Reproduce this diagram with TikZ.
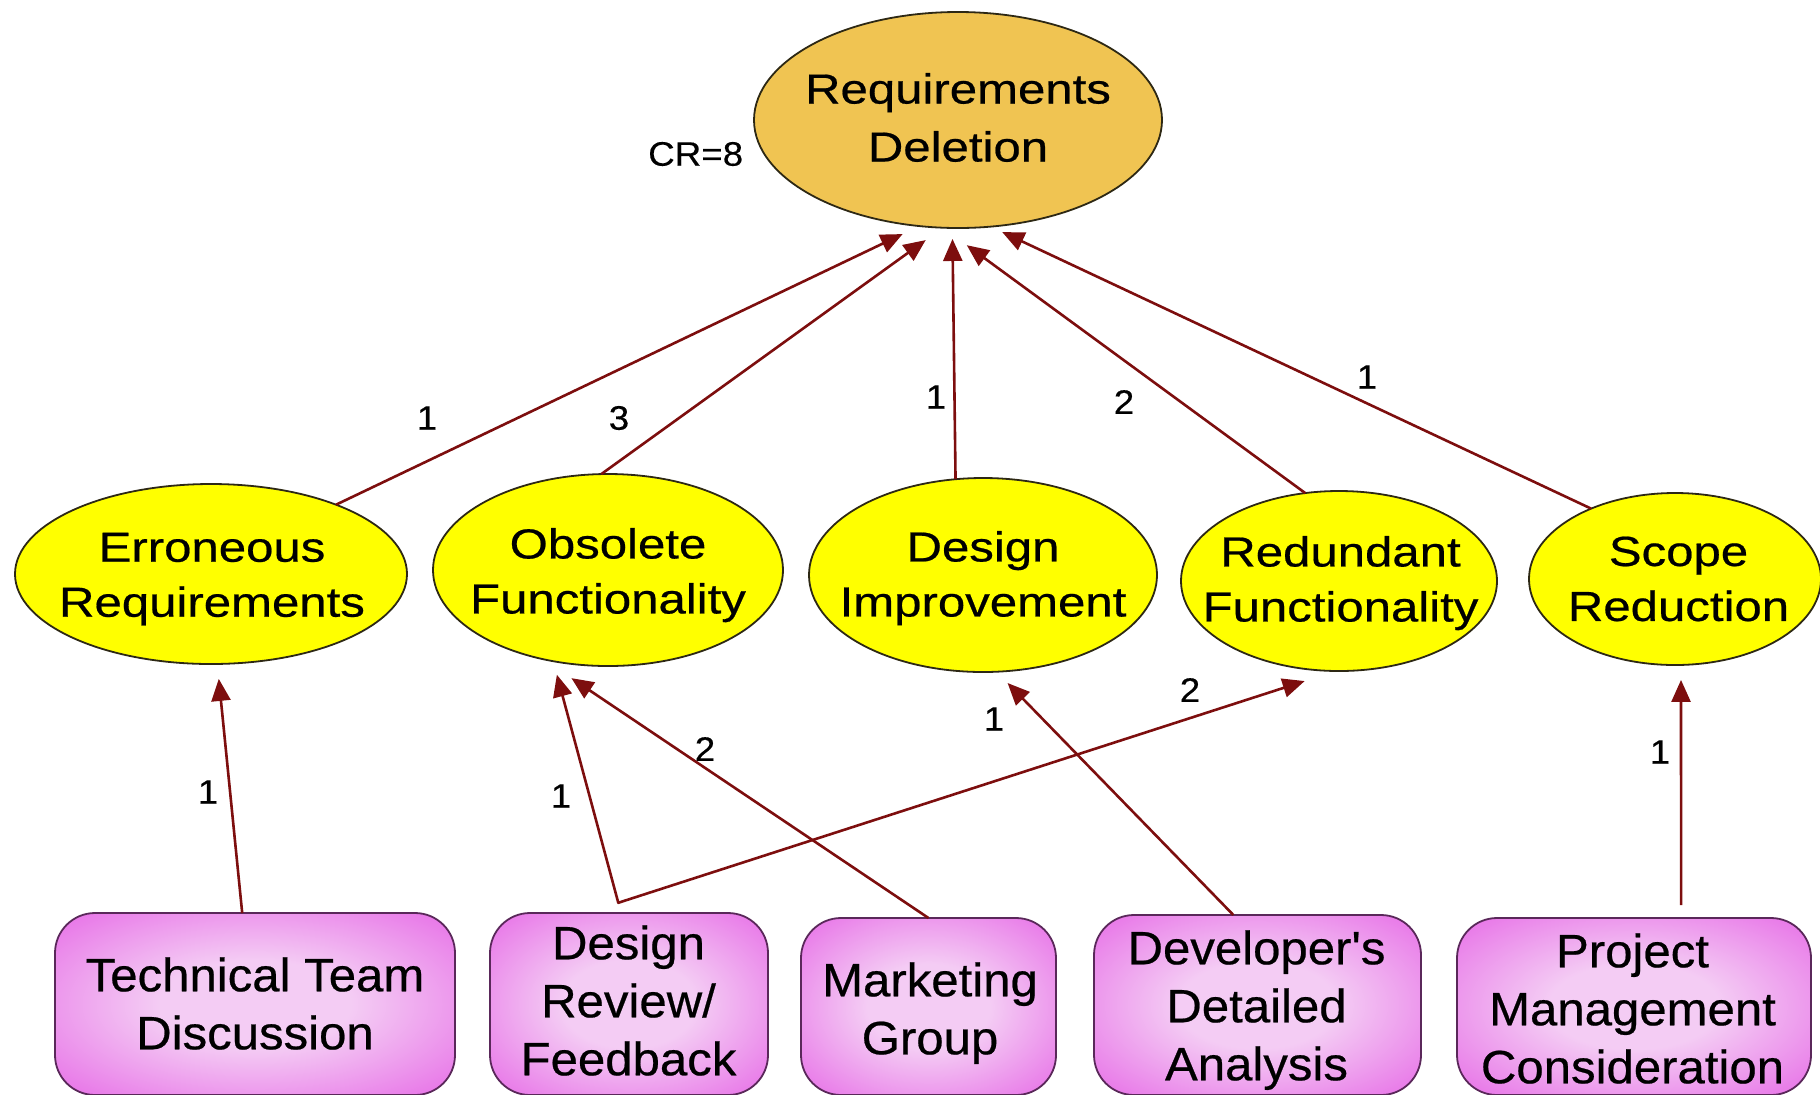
\documentclass[tikz,border=0pt]{standalone}
\usepackage{fontspec}
\setmainfont{Liberation Sans}
\newfontfamily\ellfont[FakeStretch=1.17,FakeBold=0.5]{Liberation Sans}
\newfontfamily\boxfont[FakeStretch=1.05,FakeBold=0.5]{Liberation Sans}
\newfontfamily\lblfont[FakeStretch=1.08,FakeBold=0.3]{Liberation Sans}
\usetikzlibrary{shapes.geometric,arrows.meta}
\definecolor{topfill}{RGB}{240,196,82}
\definecolor{midfill}{RGB}{255,255,0}
\definecolor{edgec}{RGB}{45,40,20}
\definecolor{boxin}{RGB}{244,204,244}
\definecolor{boxout}{RGB}{228,92,228}
\definecolor{boxedge}{RGB}{90,40,90}
\definecolor{arrowc}{RGB}{125,14,14}
\pgfdeclareradialshading{boxglow}{\pgfpoint{0bp}{0bp}}{color(0bp)=(boxin); color(12bp)=(boxin); color(40bp)=(boxout); color(50bp)=(boxout)}
\tikzset{
  ell/.style={ellipse, draw=edgec, line width=0.9pt, inner sep=0pt, outer sep=0pt},
  topell/.style={ell, fill=topfill},
  midell/.style={ell, fill=midfill},
  cause/.style={rectangle, rounded corners=20pt, draw=boxedge, line width=0.9pt, shading=boxglow, inner sep=0pt, outer sep=0pt},
  toptext/.style={align=center, inner sep=0pt, font=\ellfont\fontsize{21}{29}\selectfont, execute at begin node=\strut, execute at end node=\strut},
  midtext/.style={align=center, inner sep=0pt, font=\ellfont\fontsize{21}{27.5}\selectfont, execute at begin node=\strut, execute at end node=\strut},
  boxtext/.style={align=center, inner sep=0pt, font=\boxfont\fontsize{23.4}{29}\selectfont, execute at begin node=\strut, execute at end node=\strut},
  lbl/.style={inner sep=0pt, font=\lblfont\fontsize{17}{20}\selectfont},
  arr/.style={draw=arrowc, line width=1.3pt, -{Triangle[length=11pt,width=9.5pt]}, arrowc}
}
\begin{document}
\begin{tikzpicture}[x=0.5pt,y=-0.5pt]
\useasboundingbox (0,0) rectangle (1820,1094);
% top
\node[topell, minimum width=204pt, minimum height=108pt] (top) at (958,120) {};
\node[toptext] (topt) at (958,126) {Requirements\\Deletion};
\node[lbl] (cr) at (695.7,154) {CR=8};
% middle ellipses
\node[midell, minimum width=196pt, minimum height=90pt] (err) at (211,574) {};
\node[midell, minimum width=175pt, minimum height=96pt] (obs) at (608,570) {};
\node[midell, minimum width=174pt, minimum height=97pt] (di) at (983,575) {};
\node[midell, minimum width=158pt, minimum height=90pt] (red) at (1339,581) {};
\node[midell, minimum width=146pt, minimum height=86pt] (scope) at (1675,579) {};
\node[midtext] (errt) at (212,583) {Erroneous\\Requirements};
\node[midtext] (obst) at (608,579) {Obsolete\\Functionality};
\node[midtext] (dit) at (983,582) {Design\\Improvement};
\node[midtext] (redt) at (1340.5,587) {Redundant\\Functionality};
\node[midtext] (scopet) at (1678.5,587) {Scope\\Reduction};
% bottom boxes
\node[cause, minimum width=200pt, minimum height=91pt] (tech) at (255,1004) {};
\node[cause, minimum width=139pt, minimum height=91pt] (dr) at (629,1004) {};
\node[cause, minimum width=127.5pt, minimum height=88.5pt] (mkt) at (928.5,1006.5) {};
\node[cause, minimum width=163.5pt, minimum height=90pt] (dev) at (1257.5,1005) {};
\node[cause, minimum width=177pt, minimum height=88.5pt] (pm) at (1634,1006.5) {};
\node[boxtext] (techt) at (255,1012) {Technical Team\\Discussion};
\node[boxtext] (drt) at (628.5,1009) {Design\\Review/\\Feedback};
\node[boxtext] (mktt) at (930,1017) {Marketing\\Group};
\node[boxtext] (devt) at (1256.5,1014) {Developer's\\Detailed\\Analysis};
\node[boxtext] (pmt) at (1632.5,1017) {Project\\Management\\Consideration};
% connectors
\draw[arr, shorten >=9.3pt] (err.29.1) -- (top.250.1);
\draw[arr, shorten >=10.6pt] (obs.94.6) -- (top.262.8);
\draw[arr, shorten >=5.5pt] (di.106.8) -- (top.267.9);
\draw[arr, shorten >=14.8pt] (red.111) -- (top.262.1);
\draw[arr, shorten >=6.4pt] (scope.140.9) -- (top.287);
\draw[arr, shorten >=7.5pt] (tech.98.7) -- (err.274.9);
\draw[arr, shorten <=5pt, shorten >=7pt] (dr.95.9) -- (obs.239.7);
\draw[arr, shorten >=17pt] (mkt.90.3) -- (obs.234.3);
\draw[arr, shorten >=7.9pt] (dev.105.2) -- (di.278.6);
\draw[arr, shorten <=16.3pt, shorten >=16.4pt] (dr.115.3) -- (red.268.2);
\draw[arr, shorten <=6.5pt, shorten >=7.5pt] (pm.62) -- (scope.274);
% weights
\node[lbl] (l1) at (427,418) {1};
\node[lbl] (l2) at (619,418) {3};
\node[lbl] (l3) at (936,397) {1};
\node[lbl] (l4) at (1124,402) {2};
\node[lbl] (l5) at (1367,377) {1};
\node[lbl] (l6) at (208,792) {1};
\node[lbl] (l7) at (561,796) {1};
\node[lbl] (l8) at (705,749) {2};
\node[lbl] (l9) at (994,719) {1};
\node[lbl] (l10) at (1190,690) {2};
\node[lbl] (l11) at (1660,752) {1};
\end{tikzpicture}
\end{document}
